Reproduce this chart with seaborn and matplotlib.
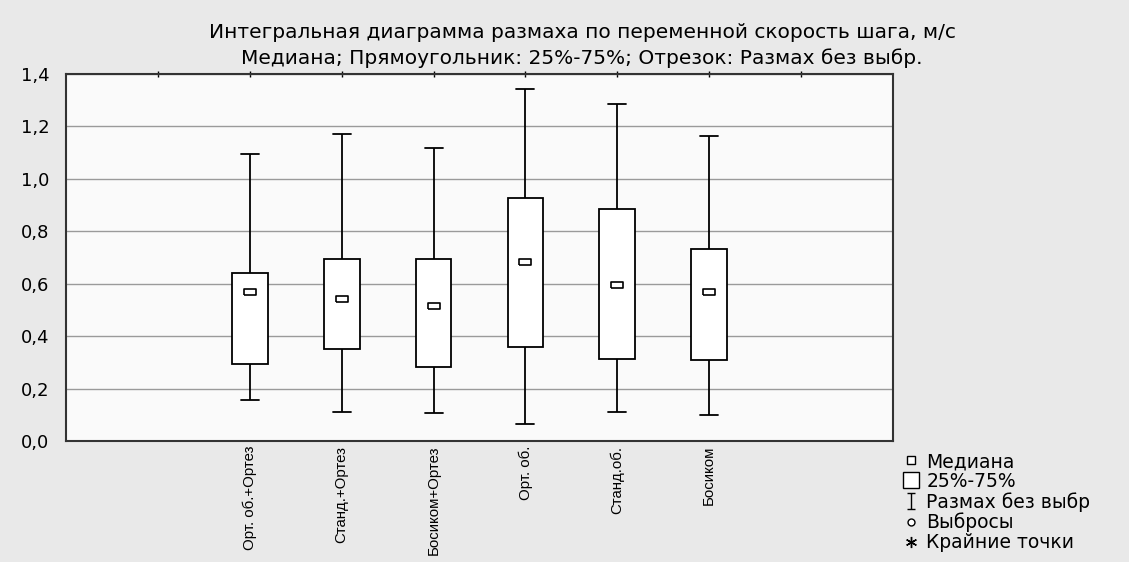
# Диаграмма размаха: скорость шага по условиям
import numpy as np
import pandas as pd
import matplotlib.pyplot as plt
from matplotlib.lines import Line2D
from matplotlib.path import Path
import seaborn as sns

groups = ["Орт. об.+Ортез", "Станд.+Ортез", "Босиком+Ортез", "Орт. об.", "Станд.об.", "Босиком"]
mins = [0.157, 0.111, 0.105, 0.066, 0.111, 0.098]
q1 = [0.292, 0.351, 0.283, 0.360, 0.312, 0.310]
medians = [0.570, 0.541, 0.514, 0.683, 0.594, 0.569]
q3 = [0.640, 0.695, 0.695, 0.927, 0.885, 0.733]
maxs = [1.094, 1.173, 1.116, 1.343, 1.285, 1.163]
yticks = [0.0, 0.2, 0.4, 0.6, 0.8, 1.0, 1.2, 1.4]

# пять значений на группу -> квартили совпадают с прочитанными
rows = []
for g, a, b, c, d, e in zip(groups, mins, q1, medians, q3, maxs):
    for v in (a, b, c, d, e):
        rows.append({"group": g, "value": v})
df = pd.DataFrame(rows)

sns.set_style("white")
plt.rcParams["font.family"] = ["DejaVu Sans"]
plt.rcParams["text.color"] = "black"
plt.rcParams["xtick.color"] = "black"
plt.rcParams["ytick.color"] = "black"

fig = plt.figure(figsize=(11.29, 5.62), dpi=100, facecolor="#e9e9e9")
ax = fig.add_axes([66 / 1129, 1 - 441 / 562, (893 - 66) / 1129, (441 - 74) / 562])
ax.set_facecolor("#fafafa")

sns.boxplot(data=df, x="group", y="value", order=groups, whis=(0, 100), width=0.39,
            color="white", linecolor="black", linewidth=1.3, showfliers=False,
            medianprops={"visible": False}, ax=ax)

rect = [(-1, -0.55), (1, -0.55), (1, 0.55), (-1, 0.55), (-1, -0.55)]
sns.pointplot(data=df, x="group", y="value", order=groups, estimator="median",
              errorbar=None, linestyle="none", marker=rect, markersize=9,
              markerfacecolor="white", markeredgecolor="black", markeredgewidth=1.2,
              color="black", ax=ax)

ax.set_xlim(-2, 7)
ax.set_ylim(0, 1.4)
ax.set_xticks(range(-1, 7))
ax.set_xticklabels([""] + groups + [""], rotation=90, fontsize=10.8,
                   family=["Liberation Sans Narrow", "Liberation Sans"])
ax.set_yticks(yticks)
ax.set_yticklabels([f"{v:.1f}".replace(".", ",") for v in yticks], fontsize=13)
ax.tick_params(axis="y", length=0, pad=12)
ax.tick_params(axis="x", direction="inout", length=5, width=1, top=True, pad=1)
ax.yaxis.grid(True, color="#9a9a9a", lw=1)
ax.xaxis.grid(False)
ax.set_xlabel("")
ax.set_ylabel("")
for s in ax.spines.values():
    s.set_visible(True)
    s.set_color("#333333")
    s.set_linewidth(1.5)

fig.text(0.5155, 1 - 33 / 562, "Интегральная диаграмма размаха по переменной скорость шага, м/с",
         ha="center", va="center", fontsize=14.5)
fig.text(0.5155, 1 - 58 / 562, "Медиана; Прямоугольник: 25%-75%; Отрезок: Размах без выбр.",
         ha="center", va="center", fontsize=14.5)

whisk = Path([(-0.5, 1), (0.5, 1), (0, 1), (0, -1), (-0.5, -1), (0.5, -1)],
             [Path.MOVETO, Path.LINETO, Path.MOVETO, Path.LINETO, Path.MOVETO, Path.LINETO])
handles = [
    Line2D([], [], ls="none", marker="s", ms=6, mfc="white", mec="black", mew=1),
    Line2D([], [], ls="none", marker="s", ms=12, mfc="white", mec="black", mew=1),
    Line2D([], [], ls="none", marker=whisk, ms=12, mec="black", mew=1),
    Line2D([], [], ls="none", marker="o", ms=5, mfc="white", mec="black", mew=1),
    Line2D([], [], ls="none", marker=(6, 2, 0), ms=8, mec="black", mew=1),
]
labels = ["Медиана", "25%-75%", "Размах без выбр", "Выбросы", "Крайние точки"]
fig.legend(handles, labels, loc="upper left", bbox_to_anchor=(902 / 1129, 1 - 452 / 562),
           frameon=False, fontsize=13.5, handlelength=1.0, handletextpad=0.3,
           labelspacing=0.05, borderaxespad=0, borderpad=0)

fig.savefig("out.png", dpi=100, facecolor=fig.get_facecolor())
